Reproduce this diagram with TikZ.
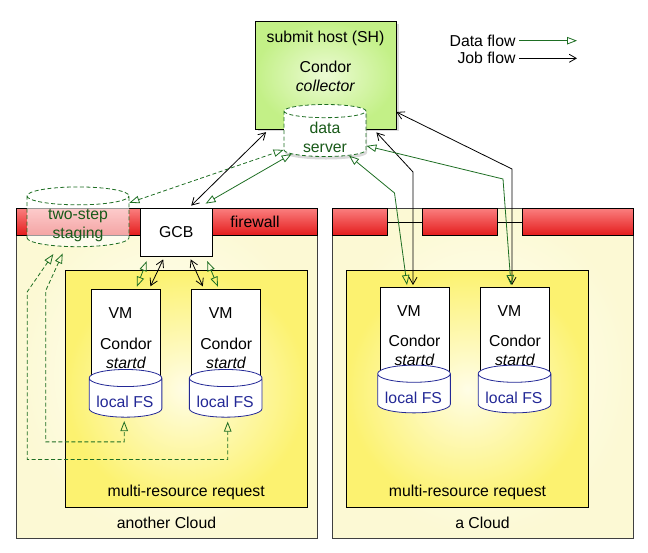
\documentclass[tikz,border=0pt]{standalone}
\usepackage{fontspec}
\setmainfont{Liberation Sans}
\usetikzlibrary{shapes.geometric,arrows.meta,shadows}
\definecolor{dgreen}{RGB}{30,110,35}
\definecolor{dtext}{RGB}{25,90,25}
\definecolor{fsblue}{RGB}{35,40,150}
\definecolor{shgreen}{RGB}{195,240,135}
\definecolor{shlight}{RGB}{236,251,212}
\definecolor{cloudin}{RGB}{255,255,246}
\definecolor{cloudout}{RGB}{252,249,212}
\definecolor{reqin}{RGB}{255,253,230}
\definecolor{reqout}{RGB}{252,242,112}
\definecolor{fwtop}{RGB}{250,125,125}
\definecolor{fwbot}{RGB}{228,28,28}
\begin{document}
\begin{tikzpicture}[x=1pt,y=-1pt,font=\fontsize{15.8}{19}\selectfont,
  dtip/.tip={Triangle[open,length=10pt,width=7.5pt]},
  jtip/.tip={Straight Barb[length=7pt,width=8pt]},
  dataflow/.style={draw=dgreen,line width=0.8pt,dtip-dtip},
  jobflow/.style={draw=black,line width=0.8pt,jtip-jtip},
  dashflow/.style={dataflow,dash pattern=on 4pt off 2.5pt},
  cyl/.style={cylinder,shape border rotate=90,aspect=0.3,inner sep=0pt,align=center},
  shbox/.style={draw=black,line width=0.8pt,inner color=shlight,outer color=shgreen,
    minimum width=141pt,minimum height=107.4pt,
    drop shadow={shadow xshift=2.5pt,shadow yshift=-2.5pt,opacity=0.3}},
  dsbox/.style={cyl,draw=dgreen,dash pattern=on 4pt off 2.5pt,line width=0.8pt,fill=white,
    minimum width=82pt,minimum height=52pt,
    drop shadow={shadow xshift=1pt,shadow yshift=-3pt,opacity=0.3}},
  stgbox/.style={cyl,draw=dgreen,dash pattern=on 4pt off 2.5pt,line width=0.8pt,fill=white,
    fill opacity=0.6,minimum width=102pt,minimum height=51pt},
  fsbox/.style={cyl,draw=fsblue,line width=0.8pt,fill=white,minimum width=72.7pt,minimum height=47.7pt},
  cloudbox/.style={draw=black!75,line width=0.8pt,inner color=cloudin,outer color=cloudout,
    minimum width=301pt,minimum height=329.3pt},
  reqbox/.style={draw=black,line width=0.8pt,inner color=reqin,outer color=reqout,
    minimum width=241.7pt,minimum height=236.5pt},
  fwbar/.style={draw=black,line width=0.6pt,top color=fwtop,bottom color=fwbot,
    minimum height=26.5pt,inner sep=0pt},
  gcbbox/.style={draw=black,line width=0.8pt,fill=white,minimum width=72pt,minimum height=48pt},
  vmbox/.style={draw=black,line width=0.8pt,fill=white,minimum width=69pt,minimum height=100pt,inner sep=0pt}]
\useasboundingbox (0,0) rectangle (648,553);
\node[cloudbox] (lcloud) at (166.7,373.4) {};
\node[cloudbox] (rcloud) at (482.5,373.4) {};
\node[fwbar,minimum width=301pt] (lfw) at (166.7,222) {};
\node[fwbar,minimum width=55pt] (rfwa) at (359.5,222) {};
\node[fwbar,minimum width=75pt] (rfwb) at (459.5,222) {};
\node[fwbar,minimum width=111pt] (rfwc) at (577.5,222) {};
\draw[line width=0.6pt] (rfwa.east) -- (rfwb.west) (rfwb.east) -- (rfwc.west);
\node (fwlbl) at (255,222) {firewall};
\node[gcbbox] (gcb) at (176.2,232) {GCB};
\node[stgbox] (stg) at (78,221.5) {\phantom{two-step}\\\phantom{staging}};
\node[text=dtext,align=center] (stglbl) at (78,225.5) {two-step\\staging};
\node[reqbox] (lreq) at (186.2,388.8) {};
\node[reqbox] (rreq) at (467.5,388.8) {};
\node (lreqlbl) at (186.2,492.7) {multi-resource request};
\node (rreqlbl) at (467.5,492.7) {multi-resource request};
\node (lcloudlbl) at (166.5,523) {another Cloud};
\node (rcloudlbl) at (482.5,523) {a Cloud};
\foreach \n/\x/\t/\c/\m in {vma/126/289.3/397.8/64,vmb/226.2/289.3/397.8/64,vmc/414.5/287/393.5/63,vmd/515/287/393.5/63}{
  \node[vmbox,anchor=north] (\n) at (\x,\t) {};
  \node[fsbox] (\n-fs) at (\x-0.5,\c) {\phantom{local FS}};
  \node[text=fsblue] (\n-fslbl) at (\x-1,\c+4) {local FS};
  \node (\n-vm) at (\x-5.5,\t+24) {VM};
  \node[align=center] (\n-txt) at (\x,\t+\m) {Condor\\\textit{startd}};
}
\node[shbox] (sh) at (325.5,75.3) {};
\node (shname) at (325.5,38) {submit host (SH)};
\node[align=center] (shcoll) at (325.5,76.5) {Condor\\\textit{collector}};
\node[dsbox] (ds) at (325,134) {\phantom{data}\\\phantom{server}};
\node[text=dtext,align=center] (dslbl) at (325,137) {data\\server};
\node[anchor=east] (ldata) at (519,40.7) {Data flow};
\node[anchor=east] (ljob) at (519,58.3) {Job flow};
\coordinate (ldataend) at (577,40.7);
\coordinate (ljobend) at (577,58.3);
\draw[dataflow,-dtip] (ldata.east) -- (ldataend);
\draw[jobflow,-jtip] (ljob.east) -- (ljobend);
\draw[jobflow] ([shift={(15,-2)}]gcb.north) -- ([shift={(11.5,2.7)}]sh.south west);
\draw[dataflow] ([shift={(-7,-4)}]gcb.north east) -- (ds.211);
\draw[dashflow] (stg.20) -- (ds.201);
\draw[jobflow] ([shift={(-20,3)}]sh.south east) -- ([shift={(-1.5,-115)}]vmc.north) -- ([shift={(-1.5,-2)}]vmc.north);
\draw[jobflow] ([shift={(0,36.7)}]sh.east) -- ([shift={(-3,-118)}]vmd.north) -- ([shift={(-3,-2)}]vmd.north);
\draw[dataflow] (ds.318) -- ([shift={(-20,-94)}]vmc.north) -- ([shift={(-7.5,-2)}]vmc.north);
\draw[dataflow] (ds.344) -- ([shift={(-12,-108)}]vmd.north) -- ([shift={(-4,-2)}]vmd.north);
\draw[jobflow] ([shift={(-13,3)}]gcb.south) -- ([shift={(-10.5,-3)}]vma.north east);
\draw[jobflow] ([shift={(14.5,3)}]gcb.south) -- ([shift={(11.5,-3)}]vmb.north west);
\draw[dataflow] ([shift={(-29.5,4.7)}]gcb.south) -- ([shift={(-24,-2.6)}]vma.north east);
\draw[dataflow] ([shift={(31,4.7)}]gcb.south) -- ([shift={(26.6,-2.6)}]vmb.north west);
\draw[dashflow] ([shift={(-24.7,7)}]stg.south) -- (27.3,291.7) |- ([shift={(2,42)}]vmb-fs.south) -- ([shift={(2,4)}]vmb-fs.south);
\draw[dashflow] ([shift={(-15.3,6.3)}]stg.south) -- (45.7,290.7) |- ([shift={(-1.3,24.3)}]vma-fs.south) -- ([shift={(-1.3,3.5)}]vma-fs.south);
\end{tikzpicture}
\end{document}
